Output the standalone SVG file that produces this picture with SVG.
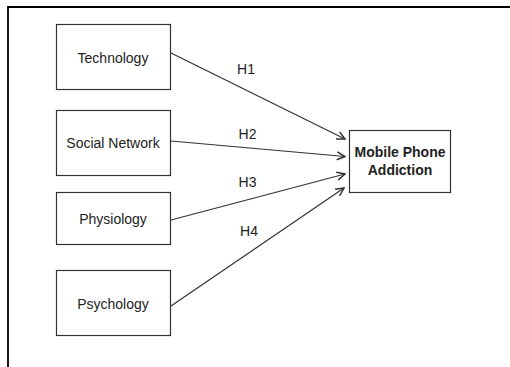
<svg xmlns="http://www.w3.org/2000/svg" width="510" height="367" viewBox="0 0 510 367">
  <style>
    .box { fill: #ffffff; stroke: #333333; stroke-width: 1.2; }
    .lbl { font-family: "Liberation Sans", Arial, sans-serif; font-size: 14px; fill: #222222; text-anchor: middle; }
    .bold { font-weight: bold; }
    .edge { fill: none; stroke: #333333; stroke-width: 1.2; marker-end: url(#chev); }
  </style>
  <defs>
    <marker id="chev" viewBox="0 0 10 10" refX="9" refY="5" markerWidth="10" markerHeight="10" markerUnits="userSpaceOnUse" orient="auto">
      <path d="M1,1 L9,5 L1,9" fill="none" stroke="#333333" stroke-width="1.5"/>
    </marker>
  </defs>
  <rect width="510" height="367" fill="#ffffff"/>

  <!-- page frame (top and left edges) -->
  <path d="M8,367 L8,7 L510,7" fill="none" stroke="#000000" stroke-width="1.8"/>

  <g id="connectors">
    <line class="edge" x1="171" y1="53" x2="345" y2="139"/>
    <line class="edge" x1="171" y1="141" x2="345" y2="156.5"/>
    <line class="edge" x1="171" y1="220" x2="345" y2="174"/>
    <line class="edge" x1="171" y1="306" x2="344" y2="188"/>
    <text class="lbl" x="246" y="74">H1</text>
    <text class="lbl" x="247.5" y="139">H2</text>
    <text class="lbl" x="247.5" y="187">H3</text>
    <text class="lbl" x="249" y="236">H4</text>
  </g>

  <g id="technology">
    <rect class="box" x="56.5" y="24.5" width="114" height="65"/>
    <text class="lbl" x="113" y="62.5">Technology</text>
  </g>
  <g id="social-network">
    <rect class="box" x="56.5" y="110.5" width="114" height="65"/>
    <text class="lbl" x="113" y="147.5">Social Network</text>
  </g>
  <g id="physiology">
    <rect class="box" x="56.5" y="192.5" width="114" height="52"/>
    <text class="lbl" x="113" y="224">Physiology</text>
  </g>
  <g id="psychology">
    <rect class="box" x="56.5" y="270.5" width="114" height="65"/>
    <text class="lbl" x="113" y="308.5">Psychology</text>
  </g>
  <g id="mobile-phone-addiction">
    <rect class="box" x="349.5" y="130.5" width="101" height="62"/>
    <text class="lbl bold" x="400" y="157">Mobile Phone</text>
    <text class="lbl bold" x="400" y="175">Addiction</text>
  </g>
</svg>
